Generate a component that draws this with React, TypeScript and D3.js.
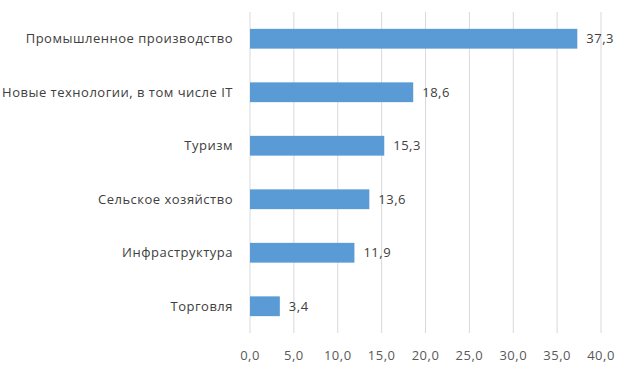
import { useEffect, useRef } from "react";
import * as d3 from "d3";

const categories = [
  "Промышленное производство",
  "Новые технологии, в том числе IT",
  "Туризм",
  "Сельское хозяйство",
  "Инфраструктура",
  "Торговля",
];
const values = [37.3, 18.6, 15.3, 13.6, 11.9, 3.4];
const ticks = [0, 5, 10, 15, 20, 25, 30, 35, 40];

function App() {
  const svgRef = useRef<SVGSVGElement>(null);

  useEffect(() => {
    const width = 626;
    const height = 369;
    const margin = { top: 12, right: 25, bottom: 36, left: 250 };
    const fmt = (v: number) => v.toFixed(1).replace(".", ",");

    const svg = d3.select(svgRef.current).attr("width", width).attr("height", height);
    svg.selectAll("*").remove();

    const x = d3.scaleLinear().domain([0, 40]).range([margin.left, width - margin.right]);
    const y = d3
      .scaleBand()
      .domain(categories)
      .range([margin.top, height - margin.bottom])
      .paddingInner(0.63)
      .paddingOuter(0.315);

    const font = "'Open Sans', sans-serif";

    // gridlines
    svg
      .append("g")
      .selectAll("line")
      .data(ticks)
      .enter()
      .append("line")
      .attr("x1", (d) => x(d))
      .attr("x2", (d) => x(d))
      .attr("y1", margin.top)
      .attr("y2", height - margin.bottom)
      .attr("stroke", "#d9d9d9")
      .attr("stroke-width", 1);

    // tick labels
    svg
      .append("g")
      .selectAll("text")
      .data(ticks)
      .enter()
      .append("text")
      .attr("x", (d) => x(d))
      .attr("y", 355)
      .attr("dy", "0.35em")
      .attr("text-anchor", "middle")
      .style("font-family", font)
      .style("font-size", "13px")
      .style("letter-spacing", "0.5px")
      .attr("fill", "#595959")
      .text((d) => fmt(d));

    // bars
    svg
      .append("g")
      .selectAll("rect")
      .data(values)
      .enter()
      .append("rect")
      .attr("x", x(0))
      .attr("y", (d, i) => y(categories[i]) as number)
      .attr("width", (d) => x(d) - x(0))
      .attr("height", y.bandwidth())
      .attr("fill", "#5b9bd5");

    // value labels
    svg
      .append("g")
      .selectAll("text")
      .data(values)
      .enter()
      .append("text")
      .attr("x", (d) => x(d) + 9)
      .attr("y", (d, i) => (y(categories[i]) as number) + y.bandwidth() / 2)
      .attr("dy", "0.35em")
      .style("font-family", font)
      .style("font-size", "13px")
      .style("letter-spacing", "0.5px")
      .attr("fill", "#404040")
      .text((d) => fmt(d));

    // category labels
    svg
      .append("g")
      .selectAll("text")
      .data(categories)
      .enter()
      .append("text")
      .attr("x", 233)
      .attr("y", (d) => (y(d) as number) + y.bandwidth() / 2)
      .attr("dy", "0.35em")
      .attr("text-anchor", "end")
      .style("font-family", font)
      .style("font-size", "13px")
      .style("letter-spacing", "0.5px")
      .attr("fill", "#404040")
      .text((d) => d);
  }, []);

  return (
    <div style={{ position: "absolute", left: 0, top: 0 }}>
      <svg ref={svgRef}></svg>
    </div>
  );
}

export default App;
